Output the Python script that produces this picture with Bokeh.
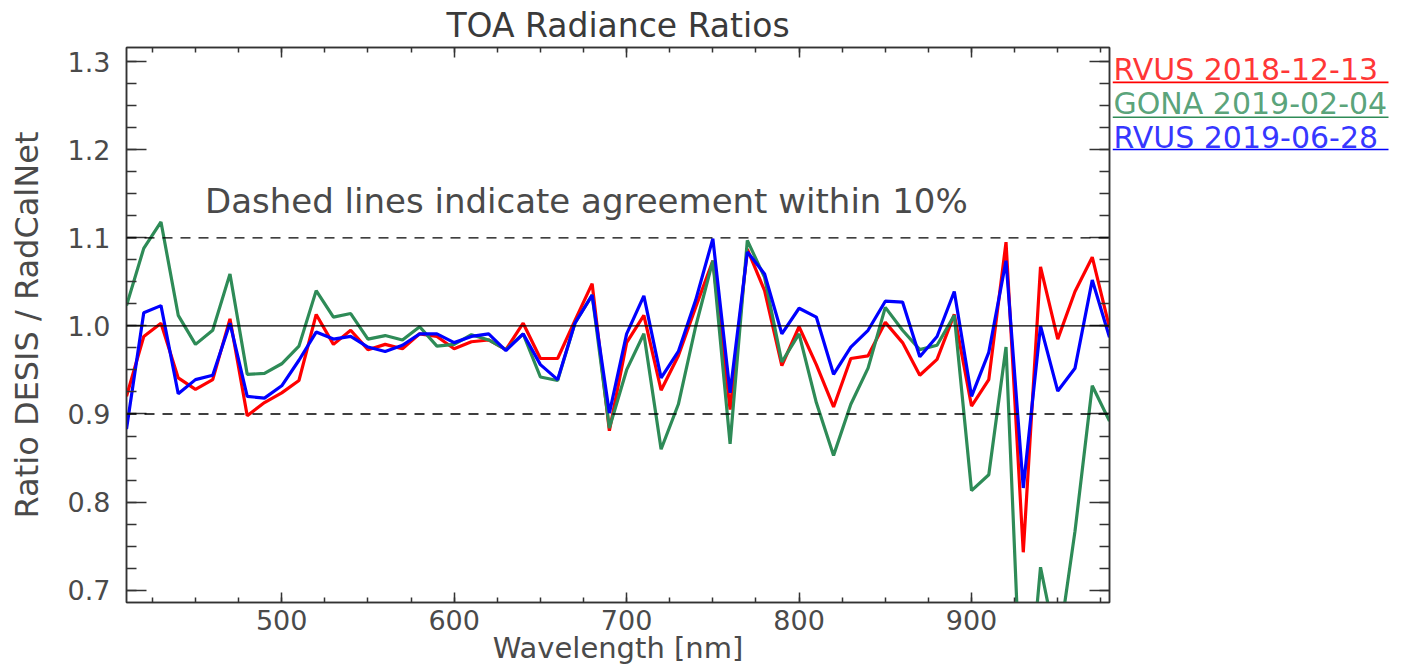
from bokeh.plotting import figure
from bokeh.layouts import row
from bokeh.models import (LinearAxis, SingleIntervalTicker, Span, Label,
                          PrintfTickFormatter, CustomJSTickFormatter, Range1d)
from bokeh.embed import file_html
from bokeh.resources import INLINE

# ---------------- data ----------------
wavelength = [410, 420, 430, 440, 450, 460, 470, 480, 490, 500,
              510, 520, 530, 540, 550, 560, 570, 580, 590, 600,
              610, 620, 630, 640, 650, 660, 670, 680, 690, 700,
              710, 720, 730, 740, 750, 760, 770, 780, 790, 800,
              810, 820, 830, 840, 850, 860, 870, 880, 890, 900,
              910, 920, 930, 940, 950, 960, 970, 980]

rvus_2018_12_13 = [0.920, 0.988, 1.003, 0.941, 0.928, 0.939, 1.008, 0.898, 0.913, 0.924,
                   0.938, 1.013, 0.979, 0.995, 0.973, 0.979, 0.974, 0.991, 0.988, 0.974,
                   0.982, 0.984, 0.973, 1.003, 0.963, 0.963, 1.006, 1.048, 0.881, 0.981,
                   1.012, 0.927, 0.966, 1.021, 1.074, 0.905, 1.087, 1.040, 0.955, 0.999,
                   0.956, 0.908, 0.963, 0.966, 1.004, 0.981, 0.944, 0.962, 1.013, 0.909,
                   0.939, 1.095, 0.743, 1.067, 0.985, 1.039, 1.078, 0.998]

gona_2019_02_04 = [1.023, 1.088, 1.118, 1.012, 0.979, 0.995, 1.059, 0.945, 0.946, 0.957,
                   0.977, 1.040, 1.010, 1.014, 0.985, 0.989, 0.984, 0.999, 0.977, 0.979,
                   0.990, 0.984, 0.973, 0.991, 0.942, 0.938, 1.003, 1.035, 0.884, 0.950,
                   0.991, 0.860, 0.911, 0.999, 1.074, 0.866, 1.097, 1.055, 0.959, 0.991,
                   0.913, 0.853, 0.911, 0.952, 1.021, 0.995, 0.973, 0.978, 1.012, 0.813,
                   0.831, 0.976, 0.510, 0.726, 0.630, 0.767, 0.932, 0.892]

rvus_2019_06_28 = [0.883, 1.015, 1.023, 0.923, 0.939, 0.944, 1.003, 0.920, 0.918, 0.932,
                   0.961, 0.993, 0.985, 0.988, 0.976, 0.971, 0.978, 0.991, 0.991, 0.981,
                   0.988, 0.991, 0.972, 0.991, 0.956, 0.939, 1.003, 1.035, 0.901, 0.991,
                   1.034, 0.941, 0.971, 1.029, 1.099, 0.924, 1.084, 1.059, 0.991, 1.020,
                   1.010, 0.945, 0.976, 0.995, 1.028, 1.027, 0.965, 0.988, 1.039, 0.920,
                   0.970, 1.074, 0.816, 1.000, 0.926, 0.952, 1.052, 0.987]

series_names = ["RVUS 2018-12-13", "GONA 2019-02-04", "RVUS 2019-06-28"]
series_values = [rvus_2018_12_13, gona_2019_02_04, rvus_2019_06_28]
series_colors = ["#ff0000", "#2e8b57", "#0000ff"]

ref_levels = [0.9, 1.0, 1.1]
ref_dashes = ["10 8", "solid", "10 8"]

FONT = "DejaVu Sans"
TXT = "#4a4a4a"
H = 667

p = figure(width=1112, height=H,
           x_range=Range1d(410, 980), y_range=Range1d(0.686, 1.316),
           output_backend="svg", toolbar_location=None,
           min_border_left=126, min_border_right=3,
           min_border_top=47, min_border_bottom=62,
           title="TOA Radiance Ratios",
           x_axis_label="Wavelength [nm]",
           y_axis_label="Ratio DESIS / RadCalNet")
p.grid.visible = False
p.outline_line_color = "#333333"
p.outline_line_width = 1.5
p.background_fill_color = "white"
p.border_fill_color = "white"

p.title.align = "center"
p.title.text_font = FONT
p.title.text_font_size = "33px"
p.title.text_font_style = "normal"
p.title.text_color = "#3a3a3a"
p.title.standoff = 5

xticker = SingleIntervalTicker(interval=100, num_minor_ticks=4)
yticker = SingleIntervalTicker(interval=0.1, num_minor_ticks=4)


def style_axis(ax, major_in, minor_in, show_labels):
    ax.axis_line_color = "#333333"
    ax.axis_line_width = 1.5
    ax.major_tick_line_color = "#333333"
    ax.minor_tick_line_color = "#333333"
    ax.major_tick_line_width = 1.5
    ax.minor_tick_line_width = 1.5
    ax.major_tick_in = major_in
    ax.major_tick_out = 0
    ax.minor_tick_in = minor_in
    ax.minor_tick_out = 0
    ax.major_label_text_font = FONT
    ax.major_label_text_color = TXT
    ax.axis_label_text_font = FONT
    ax.axis_label_text_font_style = "normal"
    ax.axis_label_text_color = TXT
    if not show_labels:
        ax.formatter = CustomJSTickFormatter(code="return '';")
        ax.major_label_text_color = None
        ax.major_label_standoff = 0


xa = p.xaxis[0]
xa.ticker = xticker
style_axis(xa, 10, 5, True)
xa.major_label_text_font_size = "27px"
xa.major_label_standoff = 7
xa.axis_label_text_font_size = "29px"
xa.axis_label_standoff = -2

ya = p.yaxis[0]
ya.ticker = yticker
ya.formatter = PrintfTickFormatter(format="%.1f")
style_axis(ya, 20, 10, True)
ya.major_label_text_font_size = "27px"
ya.major_label_standoff = 16
ya.axis_label_text_font_size = "32px"
ya.axis_label_standoff = 19

top = LinearAxis(ticker=xticker)
style_axis(top, 10, 5, False)
p.add_layout(top, "above")

right = LinearAxis(ticker=yticker)
style_axis(right, 20, 10, False)
p.add_layout(right, "right")

for lev, dash in zip(ref_levels, ref_dashes):
    p.add_layout(Span(location=lev, dimension="width", line_color="black",
                      line_width=1.3, line_dash=dash))

for vals, col in zip(series_values, series_colors):
    p.line(wavelength, vals, line_color=col, line_width=3.2)

p.add_layout(Label(x=455.5, y=1.142, text="Dashed lines indicate agreement within 10%",
                   text_font=FONT, text_font_size="34px", text_color=TXT,
                   text_baseline="alphabetic"))

# ---------------- legend panel (shares the y scale of the plot) ----------------
leg_width = 285
leg = figure(width=leg_width, height=H, x_range=Range1d(0, leg_width), y_range=p.y_range,
             output_backend="svg", toolbar_location=None, min_border=0,
             x_axis_type=None, y_axis_type=None)
leg.outline_line_color = None
leg.background_fill_color = "white"
leg.border_fill_color = "white"

legend_text_x = 1
legend_baselines = [1.2906, 1.2523, 1.2140]
legend_underlines = [1.2764, 1.2369, 1.2002]
legend_line_x = [0, 276]
for name, col, yb, yu in zip(series_names, series_colors, legend_baselines, legend_underlines):
    leg.add_layout(Label(x=legend_text_x, y=yb, text=name, text_font=FONT,
                         text_font_size="30px", text_color=col, text_alpha=0.8,
                         text_baseline="alphabetic"))
    leg.line(legend_line_x, [yu, yu], line_color=col, line_width=1.6)

layout = row(p, leg)
open("out.html", "w").write(file_html(layout, INLINE))
